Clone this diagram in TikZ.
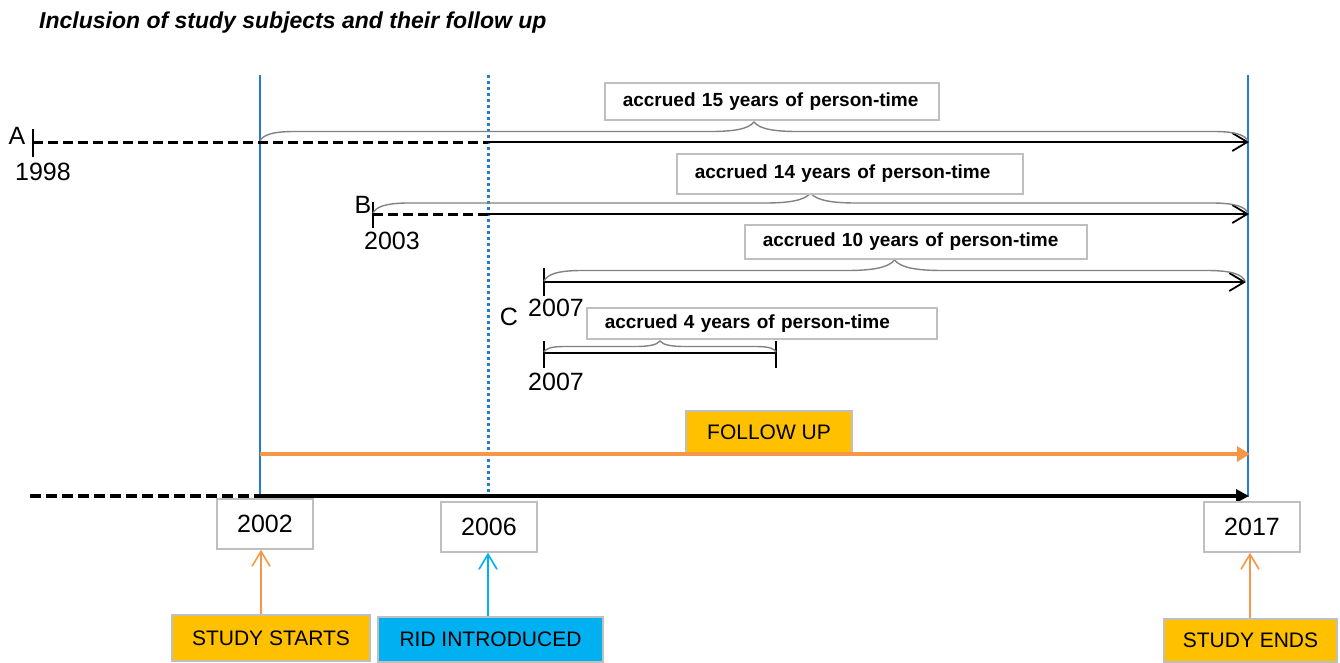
\documentclass[tikz,border=0pt]{standalone}
\usepackage{fontspec}
\setmainfont{Liberation Sans}
\usetikzlibrary{arrows.meta}
\definecolor{vblue}{RGB}{36,122,212}
\definecolor{fuorange}{RGB}{247,150,70}
\definecolor{tagyellow}{RGB}{255,192,0}
\definecolor{tagcyan}{RGB}{0,176,240}
\definecolor{boxgray}{RGB}{191,191,191}
\definecolor{bracegray}{RGB}{130,130,130}
% office-style curly brace: x-start, x-end, y of base line, amplitude
\newcommand\officebrace[4]{%
 \draw[bracestyle] (#1,#3)
   .. controls ({#1+0.15*#4},{#3-0.3*#4}) and ({#1+0.6*#4},{#3-0.5*#4}) .. ({#1+1.8*#4},{#3-0.5*#4})
   -- ({(#1+#2)/2-2.3*#4},{#3-0.5*#4})
   .. controls ({(#1+#2)/2-1.1*#4},{#3-0.5*#4}) and ({(#1+#2)/2-0.3*#4},{#3-0.62*#4}) .. ({(#1+#2)/2},{#3-#4})
   .. controls ({(#1+#2)/2+0.3*#4},{#3-0.62*#4}) and ({(#1+#2)/2+1.1*#4},{#3-0.5*#4}) .. ({(#1+#2)/2+2.3*#4},{#3-0.5*#4})
   -- ({#2-1.8*#4},{#3-0.5*#4})
   .. controls ({#2-0.6*#4},{#3-0.5*#4}) and ({#2-0.15*#4},{#3-0.3*#4}) .. (#2,#3);}
\begin{document}
\begin{tikzpicture}[x=1pt,y=-1pt,
  vline/.style={draw=vblue, line width=1.8pt},
  dotline/.style={draw=vblue, line width=3pt, dash pattern=on 3pt off 3pt},
  tickline/.style={draw=black, line width=1.8pt},
  dashrow/.style={draw=black, line width=3pt, dash pattern=on 10pt off 5pt},
  solidrow/.style={draw=black, line width=1.8pt, -{Straight Barb[length=15pt,width=18pt]}},
  plainrow/.style={draw=black, line width=1.8pt},
  bracestyle/.style={draw=bracegray, line width=1.4pt},
  lbl/.style={inner sep=0pt, font=\fontsize{25}{28}\selectfont},
  accbox/.style={draw=boxgray, line width=1.5pt, fill=white, inner xsep=18pt, inner ysep=0pt,
     anchor=north west, align=left, font=\fontsize{19}{22}\selectfont\bfseries},
  yearbox/.style={draw=boxgray, line width=1.5pt, fill=white, minimum width=96pt, minimum height=50pt,
     inner sep=0pt, font=\fontsize{25}{28}\selectfont},
  tagbox/.style={draw=boxgray, line width=1.5pt, inner sep=0pt, font=\fontsize{21}{24}\selectfont},
  upor/.style={draw=fuorange, line width=1.6pt, -{Straight Barb[length=15pt,width=18pt]}},
  upcy/.style={draw=tagcyan, line width=1.6pt, -{Straight Barb[length=15pt,width=18pt]}}
]
\useasboundingbox (0,0) rectangle (1340,662);

% title
\node[anchor=base west, inner sep=0pt, font=\fontsize{23}{27}\selectfont\bfseries\itshape] (title) at (39,28)
  {Inclusion of study subjects and their follow up};

% vertical reference lines
\coordinate (s02top) at (260,75);  \coordinate (s02bot) at (260,497);
\coordinate (r06top) at (488,75);  \coordinate (r06bot) at (488,497);
\coordinate (e17top) at (1248,75); \coordinate (e17bot) at (1248,497);
\draw[vline] (s02top) -- (s02bot);
\draw[dotline] (r06top) -- (r06bot);
\draw[vline] (e17top) -- (e17bot);

% ---- subject A
\coordinate (Aup) at (33,129); \coordinate (Adn) at (33,157);
\coordinate (Astart) at (33,142); \coordinate (Arid) at (488,142); \coordinate (Aend) at (1249,142);
\draw[tickline] (Aup) -- (Adn);
\draw[dashrow] (Astart) -- (Arid);
\draw[solidrow] (Arid) -- (Aend);
\officebrace{260}{1248}{141}{19}
\node[lbl] (Alab) at (17,136) {A};
\node[lbl] (Ayear) at (43,172) {1998};
\node[accbox, text width=298pt, minimum height=37pt] (acc15) at (604,82) {accrued 15 years of person-time};

% ---- subject B
\coordinate (Bup) at (373,202); \coordinate (Bdn) at (373,228);
\coordinate (Bstart) at (373,214); \coordinate (Brid) at (488,214); \coordinate (Bend) at (1249,214);
\draw[tickline] (Bup) -- (Bdn);
\draw[dashrow] (Bstart) -- (Brid);
\draw[solidrow] (Brid) -- (Bend);
\officebrace{373}{1248}{213}{20}
\node[lbl] (Blab) at (363,205) {B};
\node[lbl] (Byear) at (392,241) {2003};
\node[accbox, text width=310pt, minimum height=40pt] (acc14) at (676,153) {accrued 14 years of person-time};

% ---- subject C (to end)
\coordinate (Cup) at (544,268); \coordinate (Cdn) at (544,296);
\coordinate (Cstart) at (544,282); \coordinate (Cend) at (1246,282);
\draw[tickline] (Cup) -- (Cdn);
\draw[solidrow] (Cstart) -- (Cend);
\officebrace{544}{1245}{281}{21}
\node[lbl] (Clab) at (509,317) {C};
\node[lbl] (Cyear) at (556,308) {2007};
\node[accbox, text width=306pt, minimum height=34pt] (acc10) at (744,224) {accrued 10 years of person-time};

% ---- subject C (4 years)
\coordinate (Dup) at (544,341); \coordinate (Ddn) at (544,368);
\coordinate (Dstart) at (544,353); \coordinate (Dend) at (776,353);
\coordinate (Dup2) at (776,341); \coordinate (Ddn2) at (776,368);
\draw[tickline] (Dup) -- (Ddn);
\draw[tickline] (Dup2) -- (Ddn2);
\draw[plainrow] (Dstart) -- (Dend);
\officebrace{544}{776}{352}{11}
\node[lbl] (Dyear) at (556,382) {2007};
\node[accbox, text width=314pt, minimum height=31pt] (acc4) at (586,307) {accrued 4 years of person-time};

% ---- follow up
\node[tagbox, fill=tagyellow, minimum width=166pt, minimum height=42pt] (fu) at (769,432) {FOLLOW UP};
\coordinate (fustart) at (260,454); \coordinate (fuend) at (1250,454);
\draw[draw=fuorange, line width=4pt, -{Triangle[length=13pt,width=15pt]}] (fustart) -- (fuend);

% ---- time axis
\coordinate (axstart) at (30,496); \coordinate (axmid) at (260,496); \coordinate (axend) at (1249,496);
\draw[draw=black, line width=3.5pt, dash pattern=on 11pt off 5pt] (axstart) -- (axmid);
\draw[draw=black, line width=3.5pt, -{Triangle[length=13pt,width=13pt]}] (axmid) -- (axend);

% ---- year boxes
\node[yearbox] (y02) at (265,524) {2002};
\node[yearbox] (y06) at (489,527) {2006};
\node[yearbox] (y17) at (1252,527) {2017};

% ---- tags
\node[tagbox, fill=tagyellow, minimum width=198pt, minimum height=46pt] (ss) at (271,638) {STUDY STARTS};
\node[tagbox, fill=tagcyan, minimum width=225pt, minimum height=45pt] (rid) at (490.5,639.5) {RID INTRODUCED};
\node[tagbox, fill=tagyellow, minimum width=173pt, minimum height=43pt] (se) at (1250.5,640.5) {STUDY ENDS};

\coordinate (ssx) at (261,0); \coordinate (ridx) at (488,0); \coordinate (sex) at (1250,0);
\draw[upor] (ss.north -| ssx) -- (y02.south -| ssx);
\draw[upcy] (rid.north -| ridx) -- (y06.south -| ridx);
\draw[upor] (se.north -| sex) -- (y17.south -| sex);
\end{tikzpicture}
\end{document}
